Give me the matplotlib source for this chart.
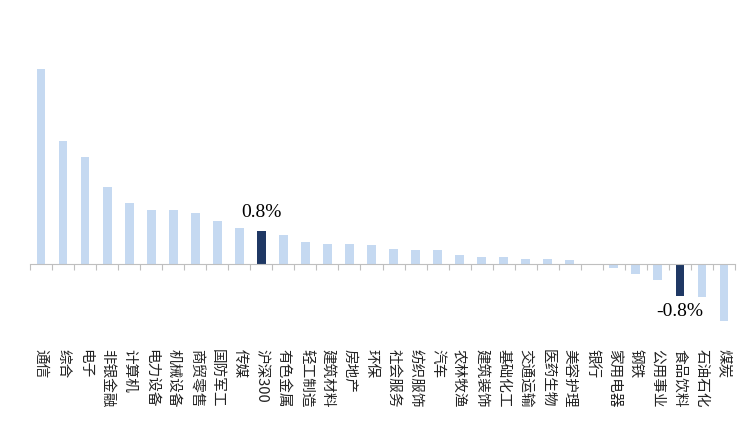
import matplotlib
matplotlib.use("Agg")
import matplotlib.pyplot as plt
import numpy as np

plt.rcParams['font.family'] = ['Noto Sans CJK SC', 'DejaVu Sans']

industries = ["通信", "综合", "电子", "非银金融", "计算机", "电力设备", "机械设备", "商贸零售",
              "国防军工", "传媒", "沪深300", "有色金属", "轻工制造", "建筑材料", "房地产", "环保",
              "社会服务", "纺织服饰", "汽车", "农林牧渔", "建筑装饰", "基础化工", "交通运输",
              "医药生物", "美容护理", "银行", "家用电器", "钢铁", "公用事业", "食品饮料",
              "石油石化", "煤炭"]
returns = [4.73, 2.98, 2.59, 1.87, 1.48, 1.31, 1.31, 1.24, 1.04, 0.87, 0.80, 0.70, 0.53, 0.48,
           0.48, 0.46, 0.36, 0.34, 0.34, 0.22, 0.17, 0.17, 0.12, 0.12, 0.10, 0.01, -0.10, -0.24,
           -0.39, -0.78, -0.80, -1.38]
highlight = ["沪深300", "食品饮料"]

fig = plt.figure(figsize=(7.5, 4.48), dpi=100)
ax = fig.add_axes([0.04, 0.263, 0.94, 0.67])
x = np.arange(len(industries))
colors = ["#1f3864" if n in highlight else "#c5d9f1" for n in industries]
ax.bar(x, returns, width=0.4, color=colors)
ax.set_xlim(-0.5, len(industries) - 0.5)
ax.set_ylim(-1.6, 5.67)

for s in ["top", "right", "left"]:
    ax.spines[s].set_visible(False)
ax.spines["bottom"].set_position(("data", 0))
ax.spines["bottom"].set_color("#bfbfbf")
ax.set_yticks([])
ax.set_xticks(np.arange(len(industries) + 1) - 0.5)
ax.set_xticklabels([])
ax.tick_params(axis="x", direction="out", length=4, color="#bfbfbf")

for i, name in enumerate(industries):
    ax.text(i, -2.05, name, ha="center", va="top", rotation=-90, fontsize=10.5,
            color="#222222")

for name in highlight:
    i = industries.index(name)
    v = returns[i]
    y = v + 0.25 if v > 0 else -0.95
    ax.text(i, y, f"{v:.1f}%", ha="center", va="bottom" if v > 0 else "top",
            fontsize=14, family="Liberation Serif")

fig.savefig("out.png")
